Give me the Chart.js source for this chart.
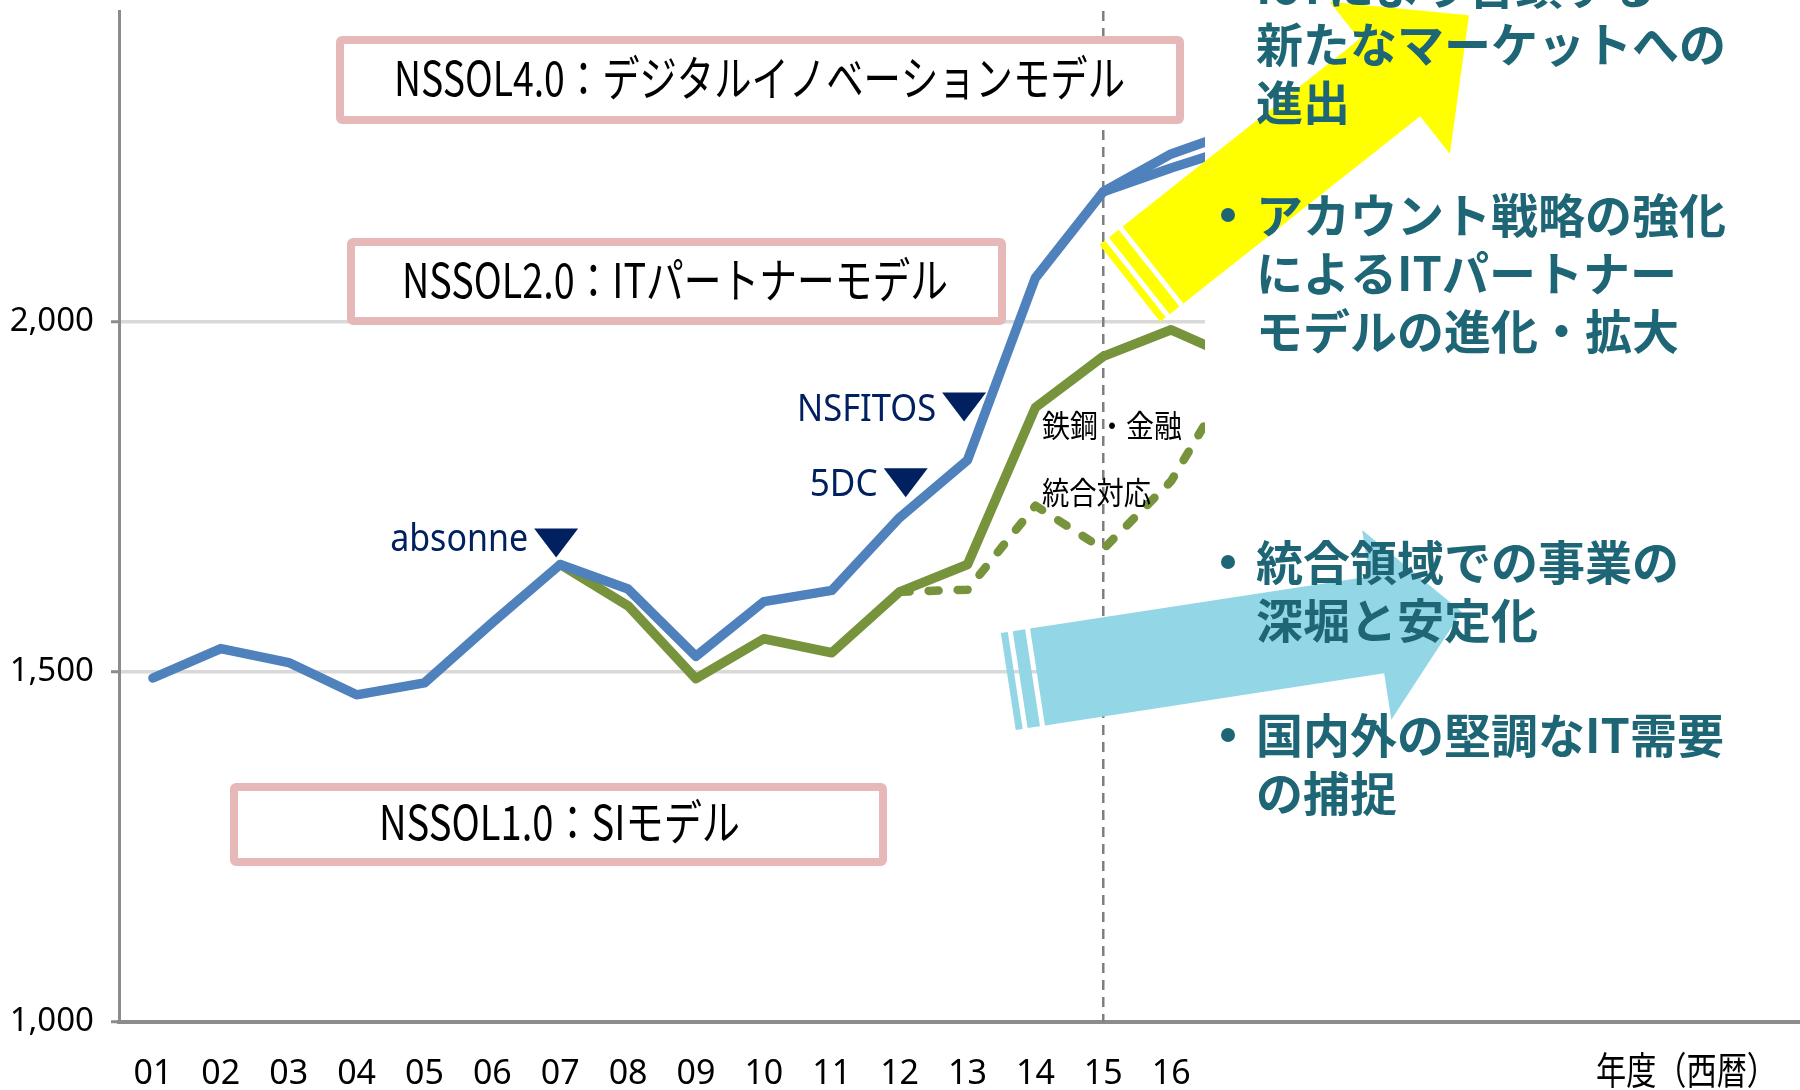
<!DOCTYPE html>
<html>
<head>
<meta charset="utf-8">
<script src="https://cdn.jsdelivr.net/npm/chart.js@4.4.1/dist/chart.umd.min.js"></script>
<style>
  html, body { margin: 0; padding: 0; background: #fff; overflow: hidden; }
  #wrap { width: 1800px; height: 1090px; overflow: hidden; }
</style>
</head>
<body>
<div id="wrap"><canvas id="chart" width="1820" height="1090"></canvas></div>
<script>
// 年度ラベル（右側は空きカテゴリ）
const years = ['01','02','03','04','05','06','07','08','09','10','11','12','13','14','15','16','','','','','','','','',''];
const yTicks = [1000, 1500, 2000];

// 青線（上側）と分岐（下側）
const blueUpper = [1491, 1533, 1513, 1467, 1484, 1570, 1653, 1618, 1522, 1600, 1616, 1720, 1802, 2062, 2185, 2239, 2273];
const blueLower = [null, null, null, null, null, null, null, null, null, null, null, null, null, null, 2185, 2219, 2250];
// 緑線（実線）と統合対応後（破線）
const greenSolid = [null, null, null, null, null, null, 1653, 1594, 1490, 1547, 1527, 1614, 1653, 1877, 1950, 1988, 1945];
const greenDashed = [null, null, null, null, null, null, null, null, null, null, null, 1614, 1617, 1737, 1675, 1772, 1935];

const boxTexts = ['NSSOL4.0：デジタルイノベーションモデル', 'NSSOL2.0：ITパートナーモデル', 'NSSOL1.0：SIモデル'];
const eventTexts = ['absonne', 'NSFITOS', '5DC'];
const noteTexts = ['鉄鋼・金融', '統合対応'];
const bulletGroups = [
    ['IoTにより台頭する', '新たなマーケットへの', '進出'],
    ['アカウント戦略の強化', 'によるITパートナー', 'モデルの進化・拡大'],
    ['統合領域での事業の', '深堀と安定化'],
    ['国内外の堅調なIT需要', 'の捕捉']
];
const axisTitle = '年度（西暦）';

const CJK = '"Noto Sans CJK JP", "Noto Sans", sans-serif';
const LATIN = '"Noto Sans", sans-serif';

// 横幅に合わせて文字を詰めて描く
function fitText(ctx, text, x1, x2, y, font, color, baseline) {
    ctx.save();
    ctx.font = font;
    ctx.fillStyle = color;
    ctx.textBaseline = baseline || 'middle';
    ctx.textAlign = 'left';
    const w = ctx.measureText(text).width;
    ctx.translate(x1, y);
    ctx.scale((x2 - x1) / w, 1);
    ctx.fillText(text, 0, 0);
    ctx.restore();
}

// ストライプ付きの矢印
function drawArrow(ctx, a, color) {
    const n = { x: -a.u.y, y: a.u.x };
    const P = (t, s) => [a.cx + t * a.u.x + s * n.x, a.cy + t * a.u.y + s * n.y];
    const poly = pts => {
        ctx.beginPath();
        pts.forEach((p, i) => i ? ctx.lineTo(p[0], p[1]) : ctx.moveTo(p[0], p[1]));
        ctx.closePath();
        ctx.fill();
    };
    ctx.save();
    ctx.fillStyle = color;
    poly([P(0, -a.hw), P(a.len, -a.hw), P(a.len, -a.hw - a.barb), P(a.tip, 0),
          P(a.len, a.hw + a.barb), P(a.len, a.hw), P(0, a.hw)]);
    [[-29.5, -22.5], [-17.5, -5]].forEach(([t1, t2]) => {
        poly([P(t1, -a.hw), P(t2, -a.hw), P(t2, a.hw), P(t1, a.hw)]);
    });
    ctx.restore();
}

const overlayPlugin = {
    id: 'overlay',
    beforeDatasetsDraw(chart) {
        const { ctx, chartArea, scales } = chart;
        const x = scales.x.getPixelForValue(14);
        ctx.save();
        ctx.strokeStyle = '#7f7f7f';
        ctx.lineWidth = 2.5;
        ctx.setLineDash([10, 7]);
        ctx.beginPath();
        ctx.moveTo(x, chartArea.top);
        ctx.lineTo(x, chartArea.bottom);
        ctx.stroke();
        ctx.restore();
    },
    afterDatasetsDraw(chart) {
        const { ctx, scales } = chart;
        const xs = scales.x, ys = scales.y;

        // 右側の説明エリア
        ctx.fillStyle = '#fff';
        ctx.fillRect(1205, 0, 700, 1019);

        // モデルの枠
        const boxes = [
            { x1: 336, y1: 36, x2: 1184, y2: 124, tx1: 394, tx2: 1125, ty: 78 },
            { x1: 347, y1: 238, x2: 1006, y2: 325, tx1: 402, tx2: 948, ty: 280 },
            { x1: 230, y1: 783, x2: 887, y2: 866, tx1: 379, tx2: 740, ty: 822 }
        ];
        boxes.forEach((b, i) => {
            ctx.save();
            ctx.fillStyle = '#fff';
            ctx.strokeStyle = '#e6b9b8';
            ctx.lineWidth = 8;
            ctx.beginPath();
            ctx.roundRect(b.x1 + 4, b.y1 + 4, b.x2 - b.x1 - 8, b.y2 - b.y1 - 8, 2);
            ctx.fill();
            ctx.stroke();
            ctx.restore();
            fitText(ctx, boxTexts[i], b.tx1, b.tx2, b.ty, '48px ' + CJK, '#000');
        });

        // 出来事マーカー ▼
        const marks = [
            { idx: 5.94, value: 1663, w: 138, dy: -6 },
            { idx: 11.95, value: 1857, w: 139, dy: -1 },
            { idx: 11.09, value: 1749, w: 68, dy: -1 }
        ];
        marks.forEach((m, i) => {
            const ax = xs.getPixelForValue(m.idx);
            const ay = ys.getPixelForValue(m.value);
            ctx.save();
            ctx.fillStyle = '#002060';
            ctx.beginPath();
            ctx.moveTo(ax - 22, ay - 29);
            ctx.lineTo(ax + 22, ay - 29);
            ctx.lineTo(ax, ay);
            ctx.closePath();
            ctx.fill();
            ctx.restore();
            fitText(ctx, eventTexts[i], ax - 28 - m.w, ax - 28, ay + m.dy, '38px ' + LATIN, '#002060', 'alphabetic');
        });

        fitText(ctx, noteTexts[0], 1042, 1182, 425, '31px ' + CJK, '#000');
        fitText(ctx, noteTexts[1], 1042, 1151, 492, '31px ' + CJK, '#000');

        // 矢印
        drawArrow(ctx, { cx: 1153, cy: 265, u: { x: 0.784, y: -0.620 }, hw: 49, len: 302, barb: 48, tip: 403 }, '#ffff00');
        drawArrow(ctx, { cx: 1037.5, cy: 677, u: { x: 0.989, y: -0.152 }, hw: 49, len: 343, barb: 47, tip: 429 }, '#93d6e6');

        // 施策の箇条書き
        const groupTop = [-14, 215, 562, 735];
        ctx.save();
        ctx.font = 'bold 47px ' + CJK;
        ctx.fillStyle = '#1e6676';
        ctx.textBaseline = 'middle';
        bulletGroups.forEach((lines, g) => {
            const y0 = groupTop[g];
            ctx.beginPath();
            ctx.arc(1228, y0, 7, 0, Math.PI * 2);
            ctx.fill();
            lines.forEach((t, k) => ctx.fillText(t, 1256, y0 + k * 58));
        });
        ctx.restore();

        fitText(ctx, axisTitle, 1596, 1777, 1070, '38px ' + CJK, '#000');
    }
};

new Chart(document.getElementById('chart'), {
    type: 'line',
    data: {
        labels: years,
        datasets: [
            { data: blueUpper, borderColor: '#4f81bd', borderWidth: 9.5 },
            { data: blueLower, borderColor: '#4f81bd', borderWidth: 9.5 },
            { data: greenSolid, borderColor: '#77933c', borderWidth: 9.5 },
            { data: greenDashed, borderColor: '#77933c', borderWidth: 8.5, borderDash: [10, 19] }
        ]
    },
    options: {
        responsive: false,
        animation: false,
        layout: { padding: { top: 11, right: 4, left: 0, bottom: 0 } },
        elements: {
            point: { radius: 0 },
            line: { tension: 0, borderCapStyle: 'round', borderJoinStyle: 'round' }
        },
        plugins: { legend: { display: false }, tooltip: { enabled: false } },
        scales: {
            x: {
                offset: true,
                grid: { display: false, drawTicks: false },
                border: { color: '#8c8c8c', width: 4 },
                ticks: { color: '#000', font: { family: LATIN, size: 34 }, padding: 32, maxRotation: 0, autoSkip: false },
                afterFit(s) { s.height = 68; s.paddingLeft = 0; s.paddingRight = 0; }
            },
            y: {
                min: 1000,
                max: 2443,
                grid: { color: '#d9d9d9', lineWidth: 3.5, tickColor: '#8c8c8c', tickLength: 8, tickWidth: 3 },
                border: { color: '#8c8c8c', width: 3 },
                ticks: {
                    color: '#000',
                    font: { family: LATIN, size: 33 },
                    padding: 17,
                    callback: v => v.toLocaleString('en-US')
                },
                afterBuildTicks(s) { s.ticks = yTicks.map(v => ({ value: v })); },
                afterFit(s) { s.width = 119; s.paddingTop = 0; s.paddingBottom = 0; }
            }
        }
    },
    plugins: [overlayPlugin]
});
</script>
</body>
</html>
